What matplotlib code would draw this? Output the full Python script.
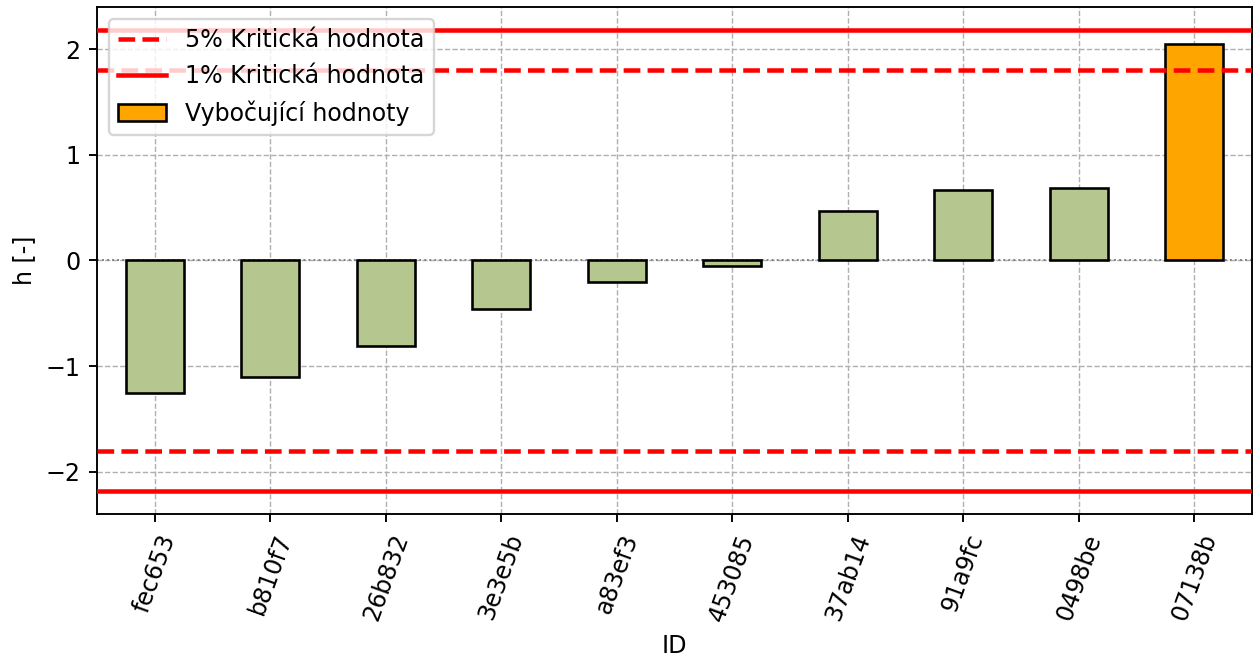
import matplotlib
matplotlib.use("Agg")
import matplotlib.pyplot as plt
import numpy as np
from matplotlib.patches import Patch

ids = ["fec653", "b810f7", "26b832", "3e3e5b", "a83ef3", "453085", "37ab14", "91a9fc", "0498be", "07138b"]
h_values = [-1.25, -1.10, -0.81, -0.46, -0.20, -0.05, 0.47, 0.67, 0.69, 2.05]
outlier = [False, False, False, False, False, False, False, False, False, True]
crit_5 = 1.80
crit_1 = 2.18

DPI = 171
fig = plt.figure(figsize=(1253/DPI, 661/DPI), dpi=DPI)
ax = fig.add_axes([97/1253, (661-514)/661, (1252-97)/1253, (514-7)/661])

x = np.arange(len(ids))
colors = ["orange" if o else "#b5c78f" for o in outlier]
ax.bar(x, h_values, width=0.5, color=colors, edgecolor="black", linewidth=1.1, zorder=3)

ax.axhline(0, color="gray", linestyle=":", linewidth=0.8, zorder=2)
l5 = ax.axhline(crit_5, color="red", linestyle="--", linewidth=1.9, zorder=4)
ax.axhline(-crit_5, color="red", linestyle="--", linewidth=1.9, zorder=4)
l1 = ax.axhline(crit_1, color="red", linestyle="-", linewidth=1.9, zorder=4)
ax.axhline(-crit_1, color="red", linestyle="-", linewidth=1.9, zorder=4)

handles = [l5, l1, Patch(facecolor="orange", edgecolor="black", linewidth=1.1)]
ax.legend(handles, ["5% Kritická hodnota", "1% Kritická hodnota", "Vybočující hodnoty"], loc="upper left")

ax.set_xlim(-0.5, len(ids) - 0.5)
ax.set_ylim(-2.4, 2.4)
ax.set_yticks([-2, -1, 0, 1, 2])
ax.set_xticks(x)
ax.set_xticklabels(ids, rotation=70)
ax.grid(True, linestyle="--", color="#b0b0b0", linewidth=0.6, zorder=0)
ax.set_axisbelow(True)
ax.set_xlabel("ID")
ax.set_ylabel("h [-]")

fig.savefig("out.png", dpi=DPI)
